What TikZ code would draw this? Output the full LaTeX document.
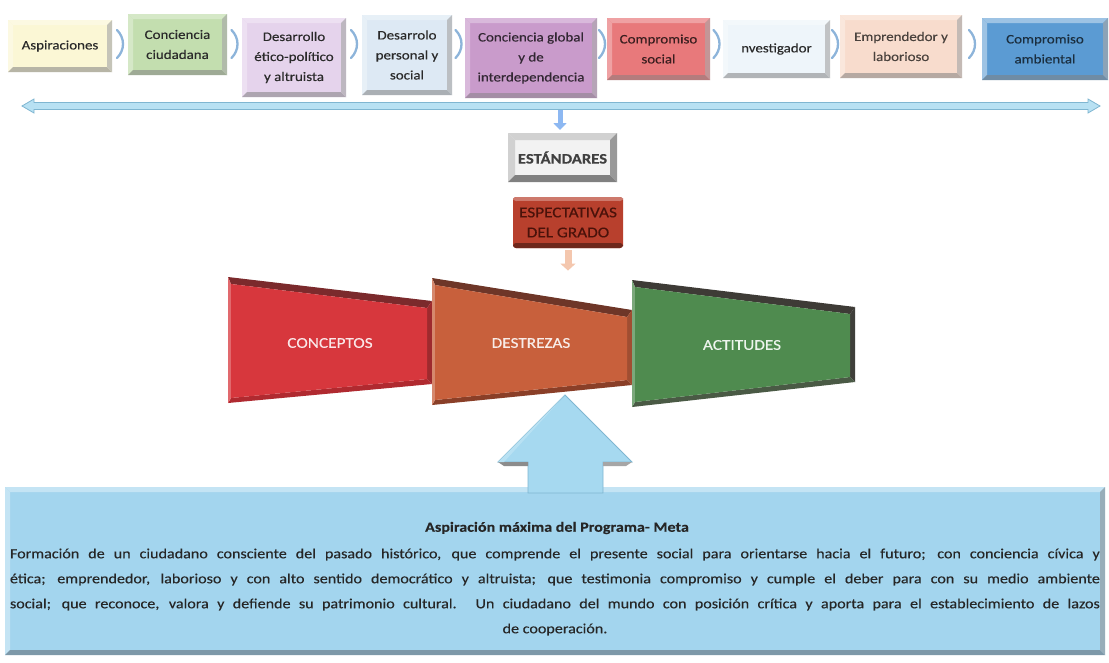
\documentclass[tikz,border=0pt]{standalone}
\usepackage{fontspec}
\setmainfont{Carlito}[FakeStretch=1.15,FakeBold=0.3]
\usetikzlibrary{calc,arrows.meta}
\definecolor{cA}{HTML}{FBF7D5}
\definecolor{cB}{HTML}{C3DEAF}
\definecolor{cC}{HTML}{E5D3EC}
\definecolor{cD}{HTML}{DDE9F4}
\definecolor{cE}{HTML}{C99BCB}
\definecolor{cF}{HTML}{E8797B}
\definecolor{cG}{HTML}{EEF5FA}
\definecolor{cH}{HTML}{F8DCCD}
\definecolor{cI}{HTML}{5B9BD3}
\definecolor{tx}{HTML}{2A2A2A}
\definecolor{chevc}{HTML}{8DB4DA}
\definecolor{skyf}{HTML}{A6D9F0}
\definecolor{skyl}{HTML}{7FB6D1}
\definecolor{metaf}{HTML}{A3D5EE}
\definecolor{metad}{HTML}{7D98A8}
\definecolor{metal}{HTML}{C4E4F4}
\definecolor{espf}{HTML}{B8402D}
\definecolor{espt}{HTML}{4A120A}
\definecolor{peach}{HTML}{F4C7AE}
\definecolor{conM}{HTML}{D7373D}
\definecolor{conT}{HTML}{7B2A2C}
\definecolor{conB}{HTML}{B02A30}
\definecolor{conR}{HTML}{9E2A2E}
\definecolor{desM}{HTML}{C8603C}
\definecolor{desT}{HTML}{6E3628}
\definecolor{desB}{HTML}{8A3F28}
\definecolor{desR}{HTML}{A04E32}
\definecolor{actM}{HTML}{4F8B4F}
\definecolor{actT}{HTML}{3E3B36}
\definecolor{actB}{HTML}{4A5A45}
\definecolor{actR}{HTML}{3F3F3A}
\newcommand\bevel[4]{%
 \colorlet{bevl}{#3}\colorlet{bevd}{#4}%
 \fill[bevl] (#1.north west) -- (#1.north east) -- ($(#1.north east)+(-#2,#2)$) -- ($(#1.north west)+(#2,#2)$) -- cycle;
 \fill[bevl] (#1.north west) -- ($(#1.north west)+(#2,#2)$) -- ($(#1.south west)+(#2,-#2)$) -- (#1.south west) -- cycle;
 \fill[bevd] (#1.south west) -- (#1.south east) -- ($(#1.south east)+(-#2,-#2)$) -- ($(#1.south west)+(#2,-#2)$) -- cycle;
 \fill[bevd!80!white] (#1.north east) -- (#1.south east) -- ($(#1.south east)+(-#2,-#2)$) -- ($(#1.north east)+(-#2,#2)$) -- cycle;
}
\newcommand\trapz[9]{%
 \coordinate (#1a) at (#2); \coordinate (#1b) at (#3);
 \coordinate (#1c) at (#4); \coordinate (#1d) at (#5);
 \coordinate (#1ia) at ($(#1a)+(3,7)$); \coordinate (#1ib) at ($(#1b)+(-5,7)$);
 \coordinate (#1ic) at ($(#1c)+(-5,-5)$); \coordinate (#1id) at ($(#1d)+(3,-5)$);
 \fill[#7] (#1a) -- (#1b) -- (#1ib) -- (#1ia) -- cycle;
 \fill[#9] (#1b) -- (#1c) -- (#1ic) -- (#1ib) -- cycle;
 \fill[#8] (#1c) -- (#1d) -- (#1id) -- (#1ic) -- cycle;
 \fill[#6!75!white] (#1d) -- (#1a) -- (#1ia) -- (#1id) -- cycle;
 \fill[#6] (#1ia) -- (#1ib) -- (#1ic) -- (#1id) -- cycle;
}
\tikzset{
 tbox/.style={inner sep=0pt, outer sep=0pt, align=center, text=tx,
   font=\fontsize{13}{20}\selectfont},
 chev/.style={draw=chevc, line width=2.3pt, line cap=round},
 traptext/.style={font=\fontsize{15}{18}\selectfont},
}
\begin{document}
\begin{tikzpicture}[x=1pt,y=-1pt]
\useasboundingbox (0,0) rectangle (1109,662);
\fill[white] (0,0) rectangle (1109,662);
% top boxes
\node[tbox, fill=cA, minimum width=104pt, minimum height=52pt] (b1) at (60,46) {Aspiraciones};
\node[tbox, fill=cB, minimum width=99pt, minimum height=61pt] (b2) at (177.5,44.5) {Conciencia\\ciudadana};
\node[tbox, fill=cC, minimum width=104pt, minimum height=79pt] (b3) at (294,57.5) {Desarrollo\\ético-político\\y altruista};
\node[tbox, fill=cD, minimum width=90pt, minimum height=80pt] (b4) at (407,55) {Desarrolo\\personal y\\social};
\node[tbox, fill=cE, minimum width=132pt, minimum height=80pt, text=black!75!cE] (b5) at (531,58) {Conciencia global\\y de\\interdependencia};
\node[tbox, fill=cF, minimum width=103pt, minimum height=62pt, text=black!75!cF] (b6) at (658.5,49) {Compromiso\\social};
\node[tbox, fill=cG, minimum width=107pt, minimum height=58pt] (b7) at (776.5,49) {nvestigador};
\node[tbox, fill=cH, minimum width=122pt, minimum height=63pt, text=black!70!cH] (b8) at (901,46.5) {Emprendedor y\\laborioso};
\node[tbox, fill=cI, minimum width=126pt, minimum height=62pt, text=black!70!cI] (b9) at (1045,49) {Compromiso\\ambiental};
\bevel{b1}{5}{cA!70!white}{cA!45!gray}
\bevel{b2}{5}{cB!70!white}{cB!45!gray}
\bevel{b3}{5}{cC!70!white}{cC!45!gray}
\bevel{b4}{5}{cD!70!white}{cD!45!gray}
\bevel{b5}{5}{cE!70!white}{cE!50!gray}
\bevel{b6}{5}{cF!70!white}{cF!50!gray}
\bevel{b7}{5}{cG!70!white}{cG!45!gray}
\bevel{b8}{5}{cH!70!white}{cH!45!gray}
\bevel{b9}{5}{cI!60!white}{cI!45!gray}
% chevrons
\coordinate (yy) at (0,44);
\foreach \a/\b in {b1/b2,b2/b3,b3/b4,b4/b5,b5/b6,b6/b7,b7/b8,b8/b9}{
 \coordinate (m) at ($(\a.east)!0.5!(\b.west)$);
 \coordinate (mc) at (m |- yy);
 \draw[chev] ($(mc)+(-3,-14)$) .. controls ($(mc)+(5,-6)$) and ($(mc)+(5,6)$) .. ($(mc)+(-3,14)$);
}
% long double arrow
\coordinate (la) at (22,106);
\coordinate (lb) at (1100,106);
\filldraw[fill=skyf!80!white, draw=skyl, line width=0.8pt]
 (la) -- ($(la)+(12,-7)$) -- ($(la)+(12,-3.5)$) -- ($(lb)+(-12,-3.5)$) -- ($(lb)+(-12,-7)$) -- (lb)
 -- ($(lb)+(-12,7)$) -- ($(lb)+(-12,3.5)$) -- ($(la)+(12,3.5)$) -- ($(la)+(12,7)$) -- cycle;
% estandares
\node[inner sep=0pt, outer sep=0pt, fill=black!5, minimum width=109pt, minimum height=49pt,
  font=\bfseries\fontsize{14.5}{17}\selectfont, text=black!75] (est) at (562.5,157.5) {ESTÁNDARES};
\bevel{est}{7}{black!18}{black!50}
\coordinate (la2) at (560,110);
\draw[skyf!85!blue, line width=5pt, -{Triangle[length=7pt,width=13pt]}] (la2) -- ($(est.north)+(-2.5,-3)$);
% espectativas
\node[inner sep=0pt, outer sep=0pt, fill=espf, rounded corners=3pt, minimum width=110pt, minimum height=51pt] (esp) at (568,222.5) {};
\fill[espf!70!white, rounded corners=3pt] (esp.north west) rectangle ($(esp.north east)+(0,4)$);
\fill[espf!60!black, rounded corners=3pt] ($(esp.south west)+(0,-5)$) rectangle (esp.south east);
\fill[espf] ($(esp.north west)+(4,4)$) rectangle ($(esp.south east)+(-4,-5)$);
\node[inner sep=0pt, align=center, font=\fontsize{15}{20}\selectfont, text=espt] (espx) at (esp.center) {ESPECTATIVAS\\DEL GRADO};
% trapezoids
\trapz{c}{228,277}{432,301}{432,384}{228,403}{conM}{conT}{conB}{conR}
\trapz{d}{432,278}{632,310}{632,385}{432,405}{desM}{desT}{desB}{desR}
\trapz{t}{632,280}{855,307}{855,382}{632,407}{actM}{actT}{actB}{actR}
\node[traptext, text=conM!12!white] (con) at (330,343) {CONCEPTOS};
\node[traptext, text=desM!12!white] (dest) at (531,343) {DESTREZAS};
\node[traptext, text=actM!10!white] (act) at (742,345) {ACTITUDES};
\draw[peach, line width=7pt, shorten <=2pt, shorten >=64pt, -{Triangle[length=7pt,width=15pt]}]
 (esp.south) -- (esp.south |- dest.north);
% meta box
\node[inner sep=0pt, outer sep=0pt, fill=metaf, minimum width=1100pt, minimum height=168pt] (meta) at (555,571) {};
\bevel{meta}{5}{metal}{metad}
% big up arrow
\coordinate (tip) at (565,395);
\filldraw[fill=skyf, draw=skyl, line width=0.8pt]
 (tip) -- (632,462) -- (603,462) -- (603,493) -- (528,493) -- (528,462) -- (498,462) -- cycle;
\fill[black!45] (498,462) -- (528,462) -- (528,466) -- (504,466) -- cycle;
\fill[black!35] (603,462) -- (632,462) -- (626,466) -- (603,466) -- cycle;
\fill[skyf!80!white] (tip) -- (498,462) -- (504,462) -- cycle;
% texts
\node[font=\bfseries\fontsize{14}{17}\selectfont, text=black!85] (title) at (557,528) {Aspiración máxima del Programa- Meta};
\node[align=center, inner sep=0pt, text=black!85, font=\fontsize{14}{25}\selectfont] (body) at (555,592) {%
\makebox[1090pt][s]{Formación de un ciudadano consciente del pasado histórico, que comprende el presente social para orientarse hacia el futuro; con conciencia cívica y}\\
\makebox[1090pt][s]{ética; emprendedor, laborioso y con alto sentido democrático y altruista; que testimonia compromiso y cumple el deber para con su medio ambiente}\\
\makebox[1090pt][s]{social; que reconoce, valora y defiende su patrimonio cultural. Un ciudadano del mundo con posición crítica y aporta para el establecimiento de lazos}\\
de cooperación.};
\end{tikzpicture}
\end{document}
